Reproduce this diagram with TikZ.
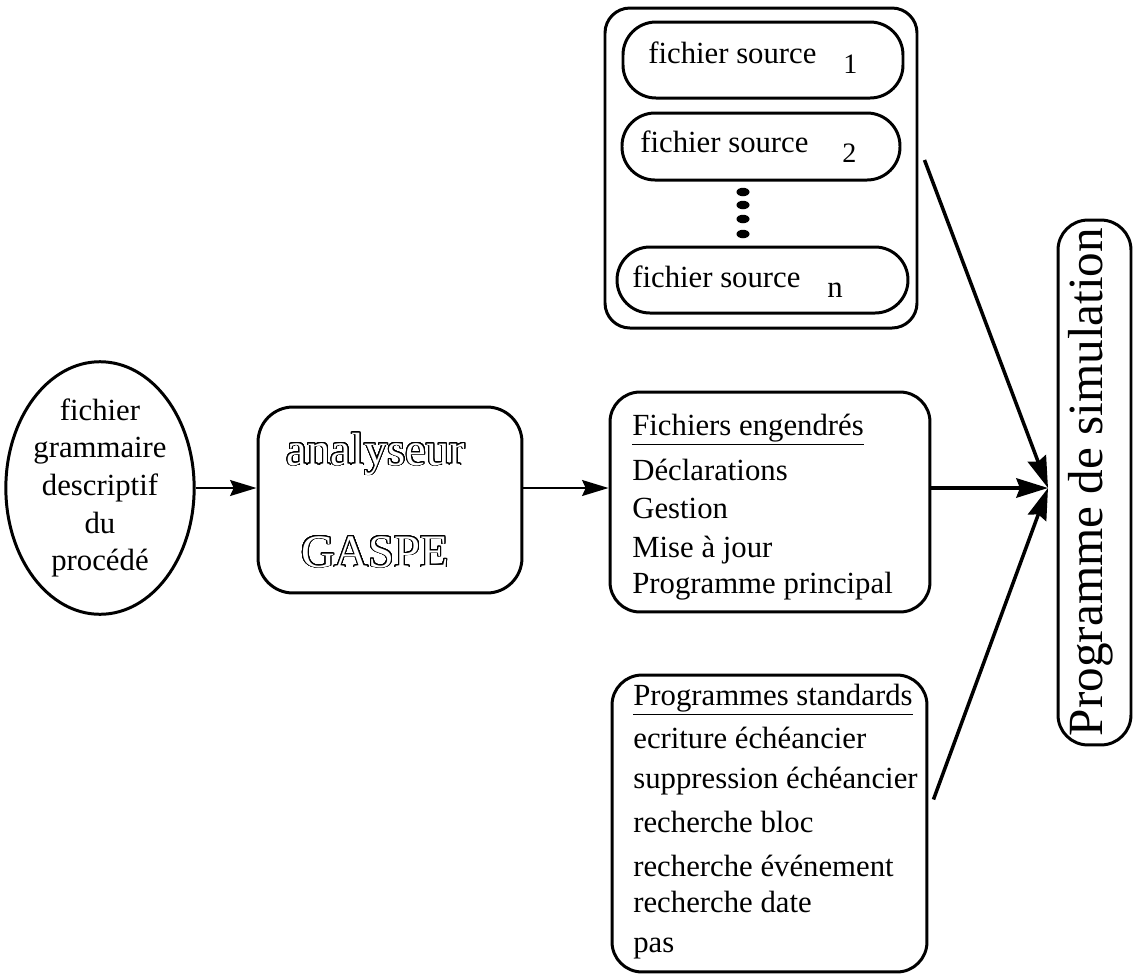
\documentclass[tikz,border=0pt]{standalone}
\usepackage{fontspec}
\setmainfont{Liberation Serif}
\usepackage[copies]{contour}
\usetikzlibrary{arrows.meta,calc,shapes.geometric}
\contourlength{0.55pt}
\contournumber{32}
\begin{document}
\begin{tikzpicture}[x=0.02cm,y=-0.02cm,
  every node/.style={font=\fontsize{17.5}{21.4}\selectfont},
  rbox/.style={draw, line width=1.7pt, rounded corners=#1, inner sep=0pt},
  rbox/.default=0.6cm,
  txt/.style={anchor=base west, inner sep=0pt},
  sub/.style={anchor=base west, inner sep=0pt, font=\fontsize{16}{18}\selectfont},
  dot/.style={ellipse, fill, minimum width=0.26cm, minimum height=0.17cm, inner sep=0pt},
  outl/.style={anchor=base, inner sep=0pt, font=\fontsize{26.5}{30}\selectfont},
  arr/.style={line width=1.4pt, -{Stealth[length=15pt,width=9pt,inset=2pt]}},
  arrb/.style={line width=2pt, -{Stealth[length=18pt,width=11pt,inset=2pt]}},
]
\useasboundingbox (0,0) rectangle (1134,975);

% sources
\node[rbox=0.5cm, minimum width=312*0.02cm, minimum height=320*0.02cm] (srcs) at (761,168) {};
\node[rbox=0.66cm, minimum width=280*0.02cm, minimum height=76*0.02cm] (s1) at (763,60) {};
\node[txt] (s1t) at (648,63) {fichier source};
\node[sub] (s1n) at (843,73) {1};
\node[rbox=0.66cm, minimum width=278*0.02cm, minimum height=67*0.02cm] (s2) at (761,146.5) {};
\node[txt] (s2t) at (640,152) {fichier source};
\node[sub] (s2n) at (842,162) {2};
\node[dot] (d1) at (743,192) {};
\node[dot] (d2) at (743,205) {};
\node[dot] (d3) at (743,219) {};
\node[dot] (d4) at (743,234) {};
\node[rbox=0.66cm, minimum width=291*0.02cm, minimum height=66*0.02cm] (sn) at (762.5,280) {};
\node[txt] (snt) at (632,287) {fichier source};
\node[sub, font=\fontsize{17.5}{21}\selectfont] (snn) at (827,297) {n};

% grammar ellipse
\node[draw, ellipse, line width=1.7pt, minimum width=3.52cm, minimum height=4.68cm,
      inner sep=0pt, align=center] (gram) at (100,488)
      {fichier\\grammaire\\descriptif\\du\\procédé};

% analyseur
\node[rbox=0.7cm, minimum width=5.28cm, minimum height=3.72cm] (ana) at (390,500) {};
\node[outl] (anat) at (376,465) {\color{white}\contour{black}{analyseur}};
\node[outl] (gasp) at (375,567) {\color{white}\contour{black}{GASPE}};

% fichiers engendres
\node[rbox=0.6cm, minimum width=6.4cm, minimum height=4.4cm] (fich) at (770,502) {};
\node[txt] (f0) at (632,435) {\underline{Fichiers engendrés}};
\node[txt] (f1) at (632,480) {Déclarations};
\node[txt] (f2) at (632,518) {Gestion};
\node[txt] (f3) at (632,557) {Mise à jour};
\node[txt] (f4) at (632,593) {Programme principal};

% programmes standards
\node[rbox=0.6cm, minimum width=6.3cm, minimum height=5.94cm] (std) at (769.5,823.5) {};
\node[txt] (p0) at (633,705) {\underline{Programmes standards}};
\node[txt] (p1) at (633,748) {ecriture échéancier};
\node[txt] (p2) at (633,788) {suppression échéancier};
\node[txt] (p3) at (633,832) {recherche bloc};
\node[txt] (p4) at (633,876) {recherche événement};
\node[txt] (p5) at (633,912) {recherche date};
\node[txt] (p6) at (633,952) {pas};

% programme de simulation
\node[rbox=0.6cm, minimum width=1.46cm, minimum height=10.5cm] (prog) at (1094.5,482.5) {};
\node[rotate=90, inner sep=0pt, font=\fontsize{28}{30}\selectfont] (progt) at (1091,482) {Programme de simulation};

% connectors
\coordinate (conv) at (1048,488);
\draw[arr] (gram.east) -- (gram.east -| ana.west);
\draw[arr] (ana.east |- conv) -- (fich.west |- conv);
\draw[arrb] (fich.east |- conv) -- (conv);
\draw[arrb] ($(srcs.east)+(6,-8)$) -- (conv);
\draw[arrb] ($(std.east)+(5,-24)$) -- (conv);
\end{tikzpicture}
\end{document}
